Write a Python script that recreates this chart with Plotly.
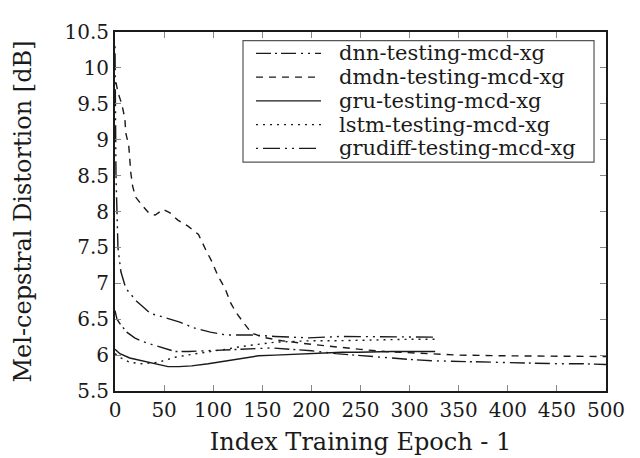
import plotly.graph_objects as go

# ---- data (epoch, MCD in dB) ----
dnn_x = [0, 2, 6, 12, 20, 28, 37, 50, 61, 75, 95, 112, 129, 145, 160, 180, 200, 225, 250, 275, 300, 325, 350, 375, 400, 425, 450, 475, 500]
dnn_y = [6.62, 6.50, 6.42, 6.32, 6.24, 6.19, 6.15, 6.09, 6.05, 6.05, 6.06, 6.07, 6.08, 6.09, 6.10, 6.08, 6.06, 6.02, 5.99, 5.96, 5.94, 5.92, 5.91, 5.90, 5.89, 5.89, 5.88, 5.88, 5.87]

dmdn_x = [1, 3, 7, 10, 11, 14, 15, 16, 18, 21, 28, 35, 41, 49, 56, 64, 74, 85, 93, 98, 105, 112, 118, 124, 131, 139, 150, 170, 200, 225, 250, 275, 300, 350, 400, 450, 500]
dmdn_y = [9.80, 9.66, 9.49, 9.30, 9.09, 8.92, 8.74, 8.55, 8.35, 8.20, 8.08, 7.97, 7.95, 8.03, 7.98, 7.88, 7.80, 7.68, 7.45, 7.32, 7.10, 6.93, 6.72, 6.58, 6.45, 6.31, 6.25, 6.20, 6.15, 6.11, 6.08, 6.05, 6.03, 6.00, 5.99, 5.98, 5.98]

gru_x = [0, 5, 15, 27, 40, 54, 65, 78, 95, 112, 130, 146, 163, 180, 197, 214, 231, 248, 265, 282, 299, 315, 326]
gru_y = [6.08, 6.02, 5.96, 5.92, 5.88, 5.84, 5.84, 5.85, 5.88, 5.92, 5.96, 5.99, 6.00, 6.01, 6.02, 6.04, 6.04, 6.04, 6.05, 6.05, 6.05, 6.05, 6.05]

lstm_x = [0, 6, 15, 27, 44, 61, 78, 95, 112, 129, 146, 163, 180, 200, 225, 250, 275, 300, 326]
lstm_y = [6.02, 5.96, 5.90, 5.88, 5.90, 5.97, 6.01, 6.04, 6.08, 6.12, 6.15, 6.18, 6.19, 6.20, 6.20, 6.21, 6.21, 6.22, 6.22]

grudiff_x = [0, 1, 3, 6, 11, 16, 22, 27, 36, 49, 66, 80, 97, 113, 139, 163, 197, 231, 265, 296, 326]
grudiff_y = [10.30, 8.50, 7.50, 7.16, 6.93, 6.85, 6.75, 6.69, 6.58, 6.53, 6.46, 6.38, 6.32, 6.28, 6.28, 6.26, 6.24, 6.26, 6.26, 6.26, 6.25]

names = ["dnn-testing-mcd-xg", "dmdn-testing-mcd-xg", "gru-testing-mcd-xg",
         "lstm-testing-mcd-xg", "grudiff-testing-mcd-xg"]

x_ticks = [0, 50, 100, 150, 200, 250, 300, 350, 400, 450, 500]
y_ticks = [5.5, 6, 6.5, 7, 7.5, 8, 8.5, 9, 9.5, 10, 10.5]
y_tick_text = ["5.5", "6", "6.5", "7", "7.5", "8", "8.5", "9", "9.5", "10", "10.5"]

dashes = [
    "15px,4px,2px,4px,15px,5px,2px,5px,2px,5px",
    "7px,6px",
    "solid",
    "2px,5px",
    "2px,5px,17px,5px,2px,5px",
]

INK = "#1a1a1a"
FONT = "DejaVu Serif"

fig = go.Figure()
for xs, ys, dash, name in zip([dnn_x, dmdn_x, gru_x, lstm_x, grudiff_x],
                              [dnn_y, dmdn_y, gru_y, lstm_y, grudiff_y],
                              dashes, names):
    fig.add_trace(go.Scatter(x=xs, y=ys, mode="lines", name=name,
                             line=dict(color=INK, width=1.4, dash=dash)))

# ---- hand-built legend (long line samples like the original) ----
L, R, T, B = 0.2607, 0.9756, 0.9757, 0.6378
fig.add_shape(type="rect", xref="paper", yref="paper", x0=L, x1=R, y0=B, y1=T,
              line=dict(color="#555", width=1.2), fillcolor="white", layer="above")
row_y = [0.9405, 0.8743, 0.8081, 0.7419, 0.6757]
for ry, dash, name in zip(row_y, dashes, names):
    fig.add_shape(type="line", xref="paper", yref="paper", x0=0.2872, x1=0.4196,
                  y0=ry, y1=ry, line=dict(color=INK, width=1.3, dash=dash), layer="above")
    fig.add_annotation(xref="paper", yref="paper", x=0.4521, y=ry, text=name,
                       showarrow=False, xanchor="left", yanchor="middle",
                       font=dict(family=FONT, size=21, color=INK))

fig.update_layout(
    width=640, height=458,
    margin=dict(l=107, r=42, t=13, b=75),
    paper_bgcolor="white", plot_bgcolor="white",
    font=dict(family=FONT, size=20, color=INK),
    showlegend=False,
)
fig.update_xaxes(range=[0, 500], tickvals=x_ticks, ticks="inside", ticklen=6,
                 tickcolor="#888", showgrid=False, zeroline=False,
                 showline=True, linecolor=INK, linewidth=2, mirror="ticks",
                 title=dict(text="Index Training Epoch - 1", standoff=12),
                 tickfont=dict(size=20))
fig.update_yaxes(range=[5.5, 10.5], tickvals=y_ticks, ticktext=y_tick_text,
                 ticks="inside", ticklen=6, tickcolor="#888", showgrid=False,
                 zeroline=False, showline=True, linecolor=INK, linewidth=2,
                 mirror="ticks",
                 title=dict(text="Mel-cepstral Distortion [dB]", standoff=26),
                 tickfont=dict(size=20))

fig.write_html("out.html")
